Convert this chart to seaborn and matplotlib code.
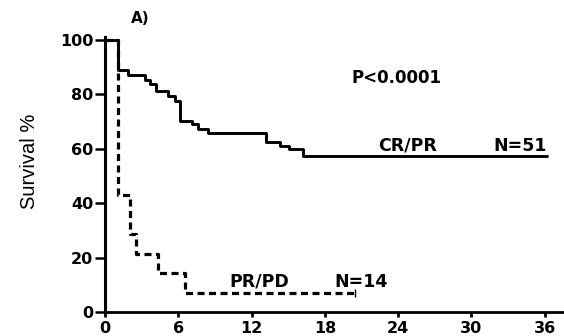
import matplotlib
matplotlib.use("Agg")
import matplotlib.pyplot as plt
import seaborn as sns
import pandas as pd

# Kaplan-Meier step data
crpr_time = [0, 1.05, 1.9, 3.3, 3.7, 4.2, 5.15, 5.7, 6.1, 7.1, 7.6, 8.4, 13.2, 14.3, 15.1, 16.2, 36.2]
crpr_surv = [100, 89.0, 87.0, 85.3, 84.0, 81.2, 79.5, 77.6, 70.4, 69.0, 67.3, 65.7, 62.6, 61.0, 59.8, 57.3, 57.3]
prpd_time = [0, 1.1, 2.05, 2.5, 4.35, 6.55, 20.5]
prpd_surv = [100, 42.9, 28.6, 21.4, 14.3, 7.1, 7.1]
prpd_censor_time = [20.5]
prpd_censor_surv = [7.1]

x_ticks = [0, 6, 12, 18, 24, 30, 36]
y_ticks = [0, 20, 40, 60, 80, 100]
ylabel = "Survival %"
panel_label = "A)"
p_text = "P<0.0001"
labels = [("CR/PR", 24.75, 59.2), ("N=51", 34.0, 59.2), ("PR/PD", 12.6, 9.2), ("N=14", 20.95, 9.2)]

sns.set_style("ticks")
plt.rcParams["font.family"] = ["DejaVu Sans"]
plt.rcParams["text.color"] = "black"
plt.rcParams["axes.labelcolor"] = "black"
plt.rcParams["xtick.color"] = "black"
plt.rcParams["ytick.color"] = "black"
plt.rcParams["axes.edgecolor"] = "black"

fig = plt.figure(figsize=(5.64, 3.36), dpi=100)
ax = fig.add_axes([105 / 564, 1 - 312 / 336, 458 / 564, (101 * 2.72) / 336])

df1 = pd.DataFrame({"t": crpr_time, "s": crpr_surv})
df2 = pd.DataFrame({"t": prpd_time, "s": prpd_surv})

sns.lineplot(data=df2, x="t", y="s", ax=ax, drawstyle="steps-post", estimator=None,
             color="black", linewidth=2.3)
dashed = ax.lines[-1]
dashed.set_dashes([2.2, 1.4])
dashed.set_dash_capstyle("butt")
sns.lineplot(data=df1, x="t", y="s", ax=ax, drawstyle="steps-post", estimator=None,
             color="black", linewidth=2.1)
ax.plot(prpd_censor_time, prpd_censor_surv, linestyle="none", marker="|",
        markersize=6, markeredgewidth=1.0, color="black")

ax.set_xlim(0, 37.5)
ax.set_ylim(0, 101)
ax.set_xticks(x_ticks)
ax.set_yticks(y_ticks)
ax.set_xlabel("")
ax.set_ylabel(ylabel, family=["Liberation Sans Narrow", "Liberation Sans"], fontsize=14.5)
ax.yaxis.set_label_coords(-0.145, 0.548)

for s in ["top", "right"]:
    ax.spines[s].set_visible(False)
ax.spines["left"].set_linewidth(2.2)
ax.spines["bottom"].set_linewidth(2.0)
ax.tick_params(axis="y", length=7.5, width=1.8, pad=0.8, labelsize=11.5)
ax.tick_params(axis="x", length=3.6, width=2.0, pad=3.0, labelsize=11.5)
for lab in ax.get_xticklabels() + ax.get_yticklabels():
    lab.set_fontweight("bold")

ax.text(2.86, 106.3, panel_label, ha="center", va="baseline", fontsize=11, fontweight="bold", clip_on=False)
ax.text(23.9, 84.2, p_text, ha="center", va="baseline", fontsize=12, fontweight="bold")
for txt, x, y in labels:
    ax.text(x, y, txt, ha="center", va="baseline", fontsize=12.5, fontweight="bold")

fig.savefig("out.png", dpi=100)
